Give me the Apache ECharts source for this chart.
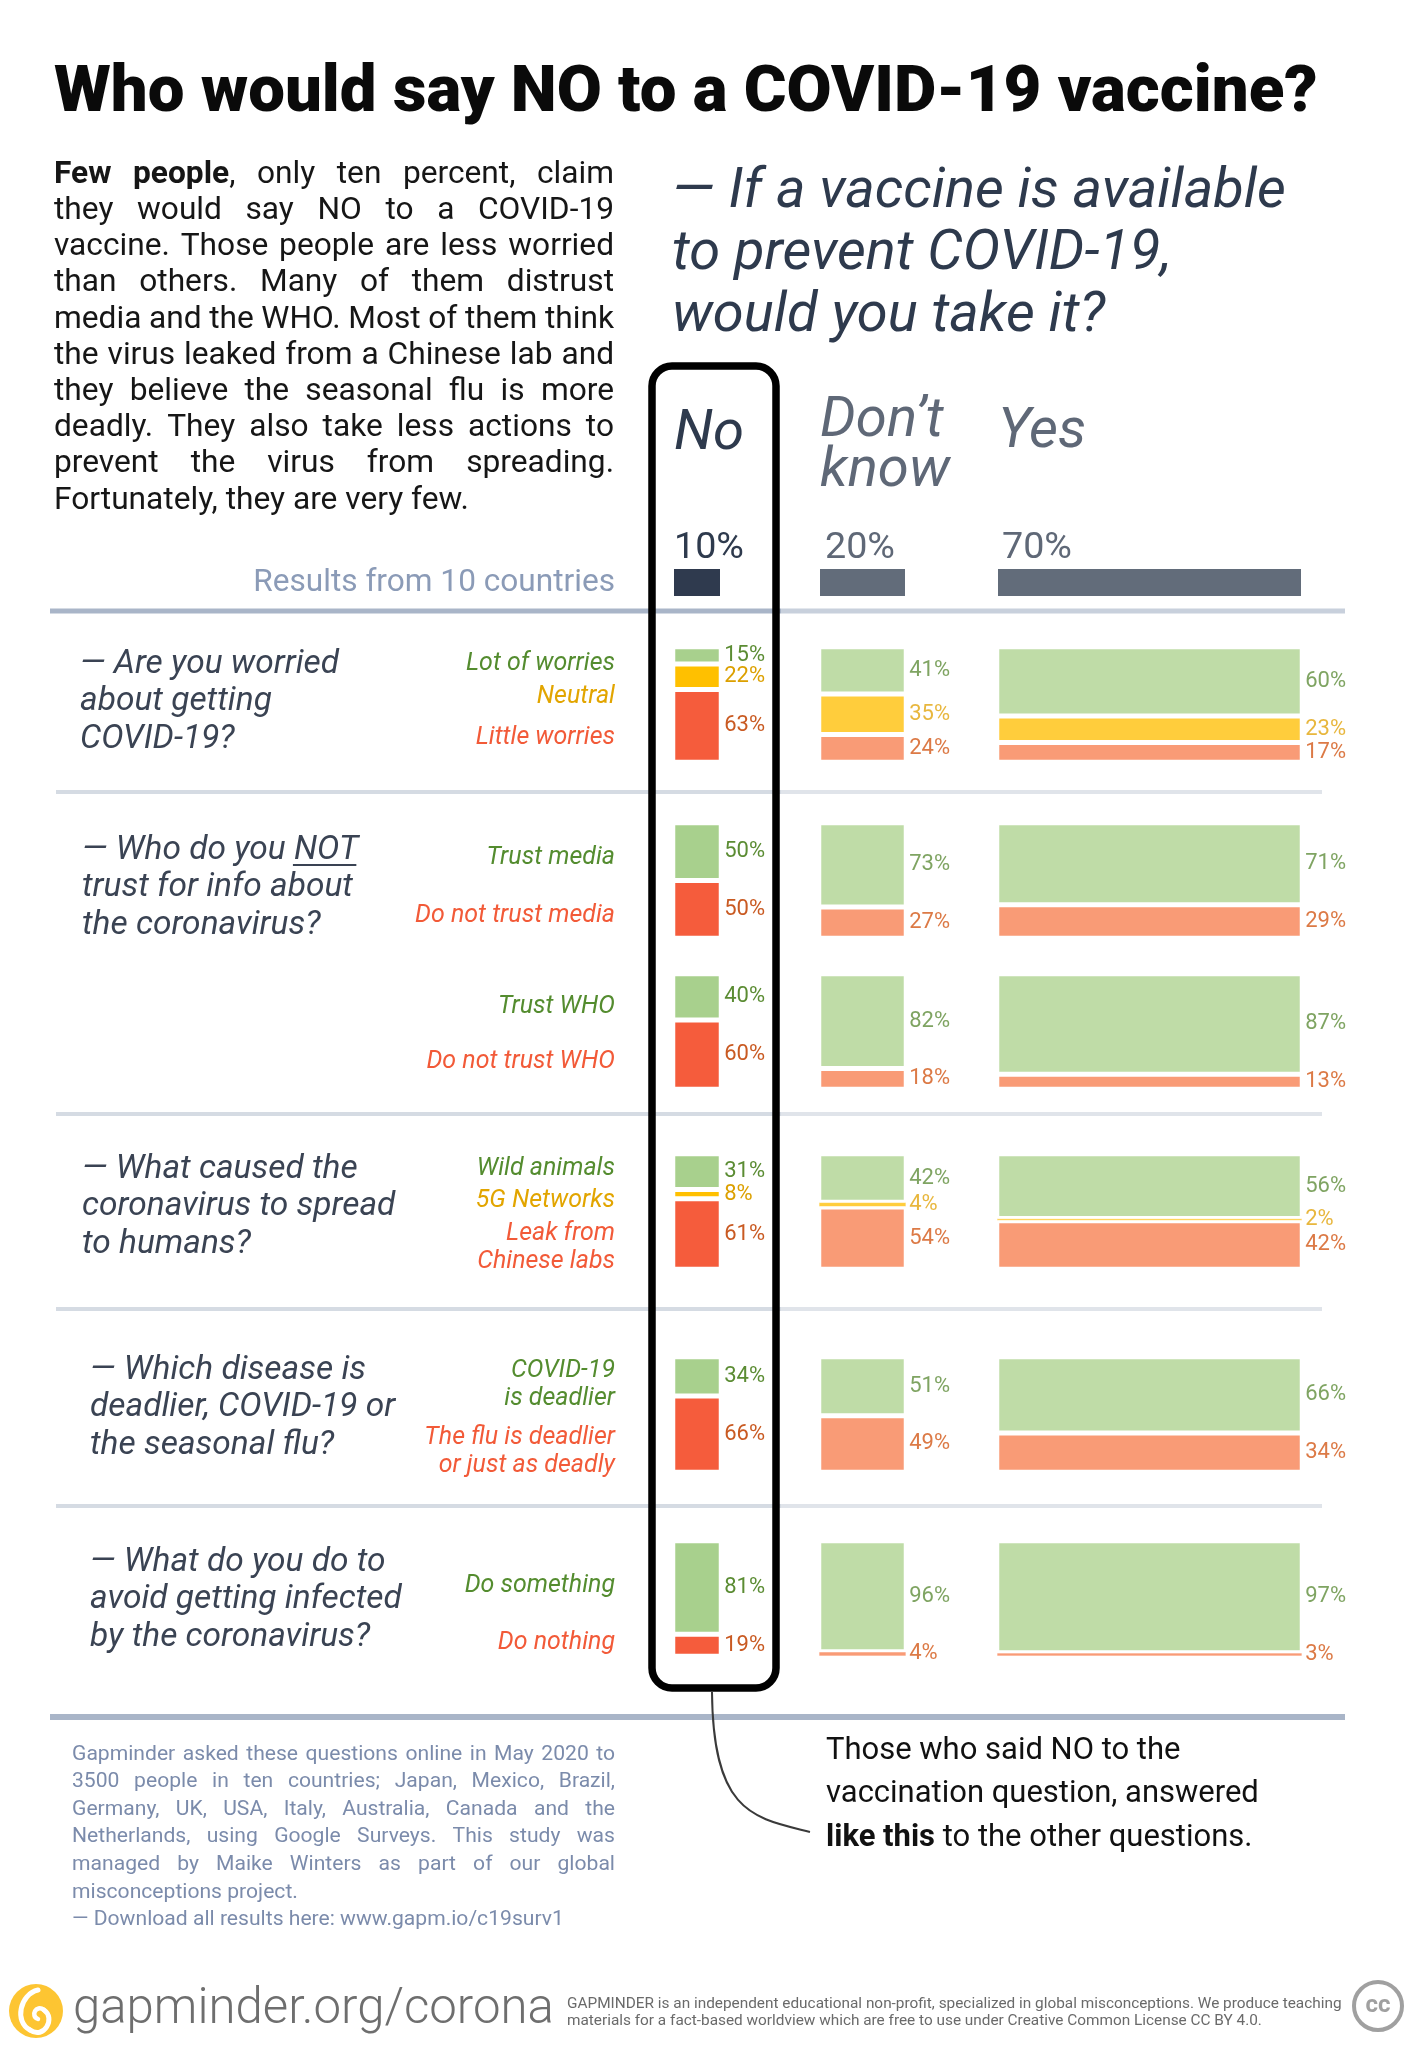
<!DOCTYPE html>
<html><head><meta charset="utf-8">
<script src="https://cdn.jsdelivr.net/npm/echarts@6/dist/echarts.min.js"></script>
<style>html,body{margin:0;padding:0;background:#fff}#c{width:1417px;height:2048px}</style>
</head><body><div id="c"></div>
<script>
// ---------------- DATA ----------------
const answerGroups = ['No', 'Don\u2019t\nknow', 'Yes'];
const answerShares = [10, 20, 70];
const shareLabels = ['10%', '20%', '70%'];

const questions = [
  ['\u2014 Are you worried', 'about getting', 'COVID-19?'],
  ['\u2014 Who do you NOT', 'trust for info about', 'the coronavirus?'],
  null,
  ['\u2014 What caused the', 'coronavirus to spread', 'to humans?'],
  ['\u2014 Which disease is', 'deadlier, COVID-19 or', 'the seasonal flu?'],
  ['\u2014 What do you do to', 'avoid getting infected', 'by the coronavirus?']
];
const optionLabels = [
  ['Lot of worries', 'Neutral', 'Little worries'],
  ['Trust media', 'Do not trust media'],
  ['Trust WHO', 'Do not trust WHO'],
  ['Wild animals', '5G Networks', 'Leak from\nChinese labs'],
  ['COVID-19\nis deadlier', 'The flu is deadlier\nor just as deadly'],
  ['Do something', 'Do nothing']
];
const optionKinds = [
  ['pos', 'neu', 'neg'], ['pos', 'neg'], ['pos', 'neg'],
  ['pos', 'neu', 'neg'], ['pos', 'neg'], ['pos', 'neg']
];
const noValues       = [[15, 22, 63], [50, 50], [40, 60], [31, 8, 61], [34, 66], [81, 19]];
const dontKnowValues = [[41, 35, 24], [73, 27], [82, 18], [42, 4, 54], [51, 49], [96, 4]];
const yesValues      = [[60, 23, 17], [71, 29], [87, 13], [56, 2, 42], [66, 34], [97, 3]];

const paragraphLines = [
  '*Few* *people*, only ten percent, claim',
  'they would say NO to a COVID-19',
  'vaccine. Those people are less worried',
  'than others. Many of them distrust',
  'media and the WHO. Most of them think',
  'the virus leaked from a Chinese lab and',
  'they believe the seasonal flu is more',
  'deadly. They also take less actions to',
  'prevent the virus from spreading.',
  'Fortunately, they are very few.'
];
const footnoteLines = [
  'Gapminder asked these questions online in May 2020 to',
  '3500 people in ten countries; Japan, Mexico, Brazil,',
  'Germany, UK, USA, Italy, Australia, Canada and the',
  'Netherlands, using Google Surveys. This study was',
  'managed by Maike Winters as part of our global',
  'misconceptions project.',
  '\u2014 Download all results here: www.gapm.io/c19surv1'
];
const bigQuestion = ['\u2014 If a vaccine is available', 'to prevent COVID-19,', 'would you take it?'];
const calloutLines = ['Those who said NO to the', 'vaccination question, answered', '*like* *this* to the other questions.'];
const footerSmall = [
  'GAPMINDER is an independent educational non-profit, specialized in global misconceptions. We produce teaching',
  'materials for a fact-based worldview which are free to use under Creative Common License CC BY 4.0.'
];

// ---------------- LAYOUT / STYLE ----------------
const FONT = 'Roboto';
const colLefts = [674, 820, 998];
const colW = [46, 85, 303];
const rowTops = [648, 824, 975, 1155, 1358, 1542];
const rowH = 113;
const qX = [80, 82, 0, 82, 90, 90];
const qBase = [675, 861, 0, 1180, 1381, 1573];
const optBase = [[672, 705, 746], [866, 924], [1015, 1070], [1177, 1209, 1242], [1379, 1446], [1594, 1651]];
const barPal = [
  {pos: '#a8d08d', neu: '#ffc000', neg: '#f55c3c'},
  {pos: '#bfdca7', neu: '#ffcd3c', neg: '#f99b76'},
  {pos: '#bfdca7', neu: '#ffcd3c', neg: '#f99b76'}
];
const numPal = [
  {pos: '#5b8c33', neu: '#dca000', neg: '#c95a22'},
  {pos: '#7fa462', neu: '#e8b73e', neg: '#dc7a46'},
  {pos: '#7fa462', neu: '#e8b73e', neg: '#dc7a46'}
];
const optPal = {pos: '#548c2f', neu: '#e2a500', neg: '#f25a38'};

// ---------------- HELPERS ----------------
const mctx = document.createElement('canvas').getContext('2d');
function measure(t, size, weight, style, family) {
  mctx.font = (style || 'normal') + ' ' + (weight || 400) + ' ' + size + 'px ' + (family || FONT);
  return mctx.measureText(t).width;
}
function fit(t, target, weight, style, family) { return 100 * target / measure(t, 100, weight, style, family); }
const VOFF = 0.32;
const elements = [];
function addText(t, x, base, size, o) {
  o = o || {};
  const al = o.align || 'left';
  elements.push({type: 'text', x: x, y: base - VOFF * size, z: o.z || 10, silent: true,
    style: {text: t, fill: o.color || '#222', fontSize: size, fontFamily: o.family || FONT,
      fontWeight: o.weight || 400, fontStyle: o.style || 'normal',
      align: al, textAlign: al, verticalAlign: 'middle', textVerticalAlign: 'middle'}});
}
function tokenSegs(tok) {
  const segs = [];
  const re = /\*([^*]+)\*|([^*]+)/g; let m;
  while ((m = re.exec(tok))) { if (m[1]) segs.push([m[1], true]); else segs.push([m[2], false]); }
  return segs;
}
function addLine(line, x0, x1, base, size, o, justify) {
  const toks = line.split(' ').map(tokenSegs);
  const w = o.weight || 400;
  const tw = toks.map(s => s.reduce((a, g) => a + measure(g[0], size, g[1] ? 700 : w, o.style, o.family), 0));
  const total = tw.reduce((a, b) => a + b, 0);
  const sp = measure(' ', size, w, o.style, o.family);
  const gap = (justify && toks.length > 1) ? (x1 - x0 - total) / (toks.length - 1) : sp;
  let x = x0;
  toks.forEach((segs, i) => {
    let xx = x;
    segs.forEach(g => {
      const gw = g[1] ? 700 : w;
      addText(g[0], xx, base, size, Object.assign({}, o, {weight: gw}));
      xx += measure(g[0], size, gw, o.style, o.family);
    });
    x += tw[i] + gap;
  });
}
function hline(x1, x2, y, lw, color, z) {
  elements.push({type: 'line', silent: true, z: z || 1, shape: {x1: x1, y1: y, x2: x2, y2: y}, style: {stroke: color, lineWidth: lw}});
}

// ---------------- TEXTS ----------------
const titleTxt = 'Who would say NO to a COVID-19 vaccine?';
const titleSize = fit(titleTxt, 1264, 900);
addText(titleTxt, 54, 116, titleSize, {weight: 900, color: '#0a0a0a'});

const paraSize = fit('Fortunately, they are very few.', 415);
paragraphLines.forEach((l, i) => addLine(l, 54, 614, 185 + i * 36.2, paraSize, {color: '#161616'}, i < paragraphLines.length - 1));

const bqSize = fit(bigQuestion[0], 614, 400, 'italic');
bigQuestion.forEach((l, i) => addText(l, 672, 211 + i * 62, bqSize, {style: 'italic', color: '#2e3a4d'}));

const resSize = fit('Results from 10 countries', 362);
addText('Results from 10 countries', 615, 593, resSize, {align: 'right', color: '#8b9bb7'});

const hdSize = fit('know', 130, 400, 'italic');
const hdColors = ['#2e3a4d', '#5f6877', '#5f6877'];
const hdBase = [453, 440, 451];
answerGroups.forEach((g, c) => {
  g.split('\n').forEach((l, k) => addText(l, colLefts[c], hdBase[c] + k * 50, hdSize, {style: 'italic', color: hdColors[c]}));
});
const shSize = fit('70%', 70);
const shOff = [0, 5, 4];
shareLabels.forEach((s, c) => addText(s, colLefts[c] + shOff[c], 561, shSize, {color: hdColors[c]}));

const qSize = fit('avoid getting infected', 312, 400, 'italic');
questions.forEach((q, r) => {
  if (!q) return;
  q.forEach((l, k) => addText(l, qX[r], qBase[r] + k * 37.5, qSize, {style: 'italic', color: '#3a4353'}));
});
(function () {
  const pre = measure('\u2014 Who do you ', qSize, 400, 'italic');
  const wn = measure('NOT', qSize, 400, 'italic');
  hline(qX[1] + pre - 1, qX[1] + pre + wn - 2, qBase[1] + 4, 1.8, '#3a4353', 10);
})();

const oSize = fit('Lot of worries', 149, 400, 'italic');
optionLabels.forEach((labs, r) => {
  labs.forEach((lab, k) => {
    lab.split('\n').forEach((l, j) => addText(l, 615, optBase[r][k] + j * 28, oSize, {align: 'right', style: 'italic', color: optPal[optionKinds[r][k]]}));
  });
});

// separators
hline(50, 781, 611, 5, '#a9b5c8');
hline(781, 1345, 611, 5, '#c8d0dc');
[792, 1114, 1309, 1506].forEach(y => { hline(56, 781, y, 4, '#d5dbe3'); hline(781, 1322, y, 4, '#e0e4ea'); });
hline(50, 1345, 1717, 6, '#a9b5c8');

// black box
elements.push({type: 'rect', z: 50, silent: true, shape: {x: 652, y: 366, width: 124, height: 1322, r: 20},
  style: {fill: 'rgba(0,0,0,0)', stroke: '#000', lineWidth: 7.5}});
elements.push({type: 'bezierCurve', z: 5, silent: true,
  shape: {x1: 712, y1: 1692, cpx1: 713, cpy1: 1815, cpx2: 755, cpy2: 1818, x2: 810, y2: 1832},
  style: {stroke: '#3a3a3a', lineWidth: 2, fill: 'none'}});

// footnote
const fnSize = fit(footnoteLines[6], 492);
footnoteLines.forEach((l, i) => addLine(l, 72, 615, 1761 + i * 27.6, fnSize, {color: '#7b8bab'}, i < 5));

// callout
const coSize = fit(calloutLines[1], 433);
calloutLines.forEach((l, i) => addLine(l, 826, 1300, 1761 + i * 43.5, coSize, {color: '#111'}, false));

// footer
elements.push({type: 'circle', z: 5, silent: true, shape: {cx: 36, cy: 2011, r: 27}, style: {fill: '#fdc532'}});
elements.push({type: 'bezierCurve', z: 6, silent: true, shape: {x1: 38, y1: 1990, cpx1: 20, cpy1: 1994, cpx2: 14, cpy2: 2022, x2: 30, y2: 2030}, style: {stroke: '#fff', lineWidth: 5, fill: 'none', lineCap: 'round'}});
elements.push({type: 'bezierCurve', z: 6, silent: true, shape: {x1: 30, y1: 2030, cpx1: 44, cpy1: 2040, cpx2: 56, cpy2: 2018, x2: 44, y2: 2010}, style: {stroke: '#fff', lineWidth: 5, fill: 'none', lineCap: 'round'}});
elements.push({type: 'bezierCurve', z: 6, silent: true, shape: {x1: 44, y1: 2010, cpx1: 36, cpy1: 2004, cpx2: 30, cpy2: 2016, x2: 38, y2: 2019}, style: {stroke: '#fff', lineWidth: 4.5, fill: 'none', lineCap: 'round'}});
const gmSize = fit('gapminder.org/corona', 481, 300);
addText('gapminder.org/corona', 73, 2026, gmSize, {weight: 300, color: '#6e6e6e'});
const fsSize = fit(footerSmall[0], 775);
footerSmall.forEach((l, i) => addText(l, 567, 2009 + i * 17, fsSize, {color: '#6a6a6a'}));
elements.push({type: 'circle', z: 5, silent: true, shape: {cx: 1378, cy: 2006, r: 24}, style: {fill: 'none', stroke: '#a0a0a0', lineWidth: 4}});
addText('cc', 1378, 2006 + 0.32 * 24, 24, {align: 'center', weight: 700, color: '#a0a0a0'});

// ---------------- CHART ----------------
const grid = [], xAxis = [], yAxis = [], series = [];
const colVals = [noValues, dontKnowValues, yesValues];
const BW = 2.5;

// header share bars
answerShares.forEach((s, c) => {
  const gi = grid.length;
  grid.push({left: colLefts[c], top: 569, width: colW[c], height: 27});
  xAxis.push({gridIndex: gi, type: 'value', min: 0, max: s, show: false});
  yAxis.push({gridIndex: gi, type: 'category', data: [answerGroups[c]], show: false});
  series.push({type: 'bar', xAxisIndex: gi, yAxisIndex: gi, barWidth: '100%', silent: true,
    data: [s], itemStyle: {color: c === 0 ? '#2f3a4e' : '#626c7a'}});
});

rowTops.forEach((top, r) => {
  colVals.forEach((vals, c) => {
    const gi = grid.length;
    grid.push({left: colLefts[c] - BW / 2, top: top - BW / 2, width: colW[c] + BW, height: rowH + BW});
    xAxis.push({gridIndex: gi, type: 'category', data: [answerGroups[c]], show: false});
    yAxis.push({gridIndex: gi, type: 'value', min: 0, max: 100, inverse: true, show: false});
    vals[r].forEach((v, k) => {
      const kind = optionKinds[r][k];
      series.push({
        type: 'bar', xAxisIndex: gi, yAxisIndex: gi, stack: 'g' + gi, barWidth: '100%', silent: true,
        name: optionLabels[r][k],
        data: [{value: v, itemStyle: {borderWidth: v < 5 ? 0.6 : BW}}],
        itemStyle: {color: barPal[c][kind], borderColor: '#ffffff'},
        label: {show: true, position: 'right', distance: 3, formatter: '{c}%',
          color: numPal[c][kind], fontSize: 22, fontFamily: FONT}
      });
    });
  });
});

const chart = echarts.init(document.getElementById('c'), null, {width: 1417, height: 2048});
chart.setOption({
  animation: false,
  backgroundColor: '#ffffff',
  textStyle: {fontFamily: FONT},
  grid: grid, xAxis: xAxis, yAxis: yAxis, series: series,
  graphic: {elements: elements}
});
</script></body></html>
